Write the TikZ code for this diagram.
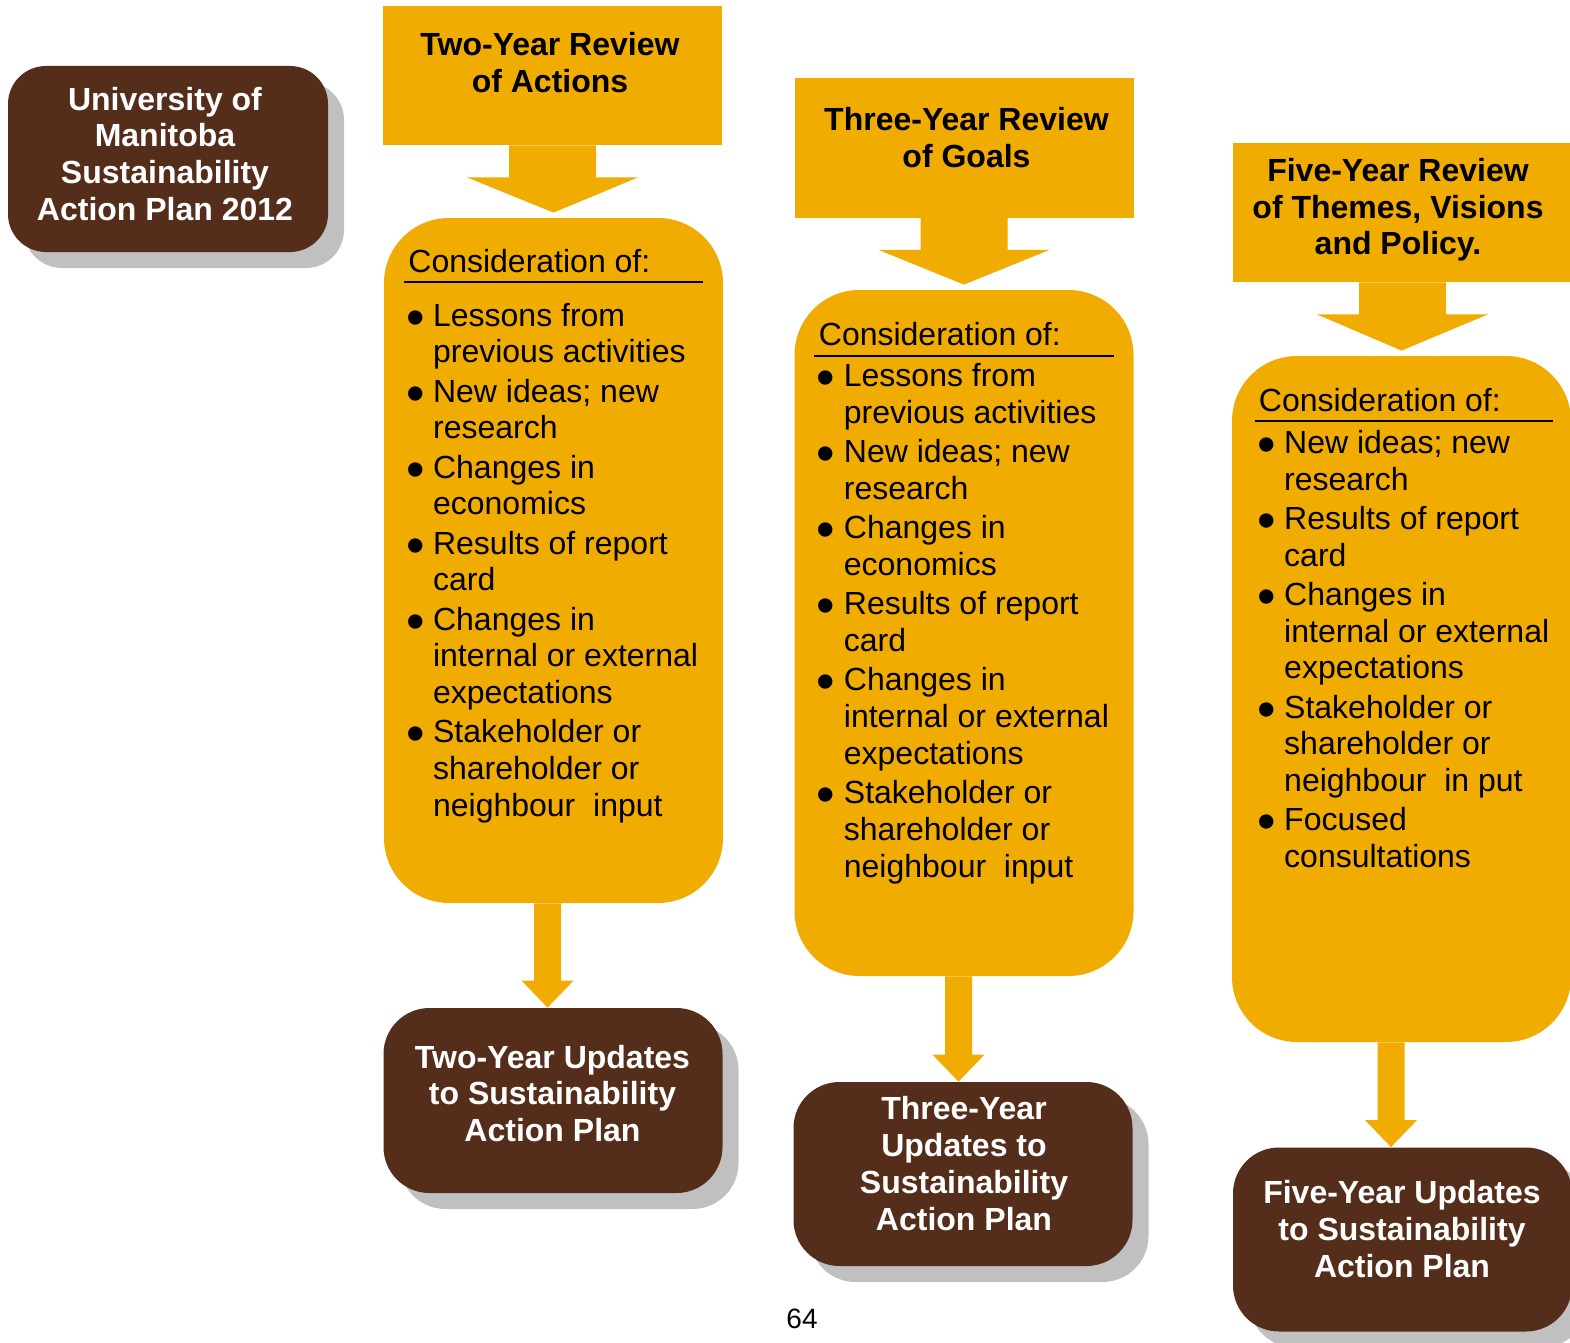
\documentclass[tikz,border=0pt]{standalone}
\usepackage{fontspec}
\usepackage{graphicx}
\setmainfont{Liberation Sans}
\usetikzlibrary{calc,shadows}
\definecolor{gold}{HTML}{F0AC00}
\definecolor{brownbox}{HTML}{552E1B}
\definecolor{shadowgray}{HTML}{C0C0C0}
\newcommand\bul{\makebox[12pt][l]{\hspace*{-1.5pt}\raisebox{-4.5pt}{\scalebox{1.65}{\textbullet}}}}
\newcommand\ind{\hspace*{12pt}}
\newcommand\ig{1.2pt}
\newcommand\topArrow[2]{%
  \fill[blockarrow] ($(#1.south)+(-43.5,0)$) -- ($(#1.south)+(43.5,0)$)
    -- ($(#1.south)+(43.5,32)$) -- ($(#1.south)+(85.5,32)$)
    -- ($(#2.north)+(0,-5)$)
    -- ($(#1.south)+(-85.5,32)$) -- ($(#1.south)+(-43.5,32)$) -- cycle;}
\newcommand\botArrow[4]{%
  \coordinate (#3) at ($(#1.south)+(#4,0)$);
  \fill[blockarrow] ($(#3)+(-13.5,0)$) -- ($(#3)+(13.5,0)$)
    -- ($(#3 |- #2.north)+(13.5,-27)$) -- ($(#3 |- #2.north)+(26,-27)$)
    -- ($(#3 |- #2.north)+(0,0)$)
    -- ($(#3 |- #2.north)+(-26,-27)$) -- ($(#3 |- #2.north)+(-13.5,-27)$) -- cycle;}
\begin{document}
\begin{tikzpicture}[x=0.5pt,y=-0.5pt,
  goldbox/.style={fill=gold, draw=none, inner sep=0pt, minimum width=169.5pt},
  titlebox/.style={goldbox, minimum height=69.5pt},
  consbox/.style={goldbox, rounded corners=32.5pt, minimum height=343pt},
  updbox/.style={fill=brownbox, draw=none, inner sep=0pt, minimum width=169.5pt,
     minimum height=92pt, rounded corners=23pt,
     drop shadow={shadow xshift=8pt, shadow yshift=-8pt, fill=shadowgray, opacity=1}},
  titletext/.style={font=\fontsize{16pt}{18.4pt}\selectfont\bfseries, align=center,
     anchor=base, inner sep=0pt, text=black},
  updtext/.style={titletext, text=white},
  listtext/.style={font=\fontsize{16pt}{18.4pt}\selectfont, align=left,
     anchor=base west, inner sep=0pt, text=black},
  blockarrow/.style={fill=gold, draw=none},
  uline/.style={draw=black, line width=1.1pt},
]
\useasboundingbox (0,0) rectangle (1570,1343);
\clip (0,0) rectangle (1570,1343);

% boxes
\node[updbox, minimum width=160pt, minimum height=93pt, rounded corners=19pt] (uofm) at (168,159) {};
\node[titlebox] (r1) at (552.5,75.5) {};
\node[titlebox] (r2) at (964,148) {};
\node[titlebox] (r3) at (1402.5,212.5) {};
\node[consbox, minimum height=342.5pt] (c1) at (553.5,560.5) {};
\node[consbox] (c2) at (964,633) {};
\node[consbox] (c3) at (1401.5,699) {};
\node[updbox, minimum height=92.5pt] (u1) at (553,1100.5) {};
\node[updbox] (u2) at (963,1174) {};
\node[updbox] (u3) at (1402.5,1239.5) {};

% arrows
\topArrow{r1}{c1}
\topArrow{r2}{c2}
\topArrow{r3}{c3}
\botArrow{c1}{u1}{aone}{-6}
\botArrow{c2}{u2}{atwo}{-5.5}
\botArrow{c3}{u3}{athree}{-10.5}

% titles (anchor = baseline of last line)
\node[titletext] (t1) at (550,92.5) {Two-Year Review\\of Actions};
\node[titletext] (t2) at (966.5,167.3) {Three-Year Review\\of Goals};
\node[titletext] (t3) at (1398,255) {Five-Year Review\\of Themes, Visions\\and Policy.};

% update texts
\node[updtext] (tu0) at (165,220.5) {University of\\Manitoba\\Sustainability\\Action Plan 2012};
\node[updtext] (tu1) at (552.5,1141.7) {Two-Year Updates\\to Sustainability\\Action Plan};
\node[updtext] (tu2) at (964,1230) {Three-Year\\Updates to\\Sustainability\\Action Plan};
\node[updtext] (tu3) at (1402,1277) {Five-Year Updates\\to Sustainability\\Action Plan};

% consideration headers
\node[listtext] (h1) at (408,272) {Consideration of:};
\node[listtext] (h2) at (818.5,345) {Consideration of:};
\node[listtext] (h3) at (1258.5,411) {Consideration of:};
\draw[uline] ($(c1.north west)+(20,64)$) -- ($(c1.north east)+(-20,64)$);
\draw[uline] ($(c2.north west)+(20,66)$) -- ($(c2.north east)+(-20,66)$);
\draw[uline] ($(c3.north west)+(23,65.7)$) -- ($(c3.north east)+(-18,65.7)$);

% lists (anchor = baseline of last line)
\node[listtext] (l1) at (408.7,816.4) {\bul Lessons from\\\ind previous activities\\[\ig]
\bul New ideas; new\\\ind research\\[\ig]
\bul Changes in\\\ind economics\\[\ig]
\bul Results of report\\\ind card\\[\ig]
\bul Changes in\\\ind internal or external\\\ind expectations\\[\ig]
\bul Stakeholder or\\\ind shareholder or\\\ind neighbour\ \ input};
\node[listtext] (l2) at (819.5,877.1) {\bul Lessons from\\\ind previous activities\\[\ig]
\bul New ideas; new\\\ind research\\[\ig]
\bul Changes in\\\ind economics\\[\ig]
\bul Results of report\\\ind card\\[\ig]
\bul Changes in\\\ind internal or external\\\ind expectations\\[\ig]
\bul Stakeholder or\\\ind shareholder or\\\ind neighbour\ \ input};
\node[listtext] (l3) at (1259.8,867.7) {\bul New ideas; new\\\ind research\\[\ig]
\bul Results of report\\\ind card\\[\ig]
\bul Changes in\\\ind internal or external\\\ind expectations\\[\ig]
\bul Stakeholder or\\\ind shareholder or\\\ind neighbour\ \ in put\\[\ig]
\bul Focused\\\ind consultations};

% page number
\node[font=\fontsize{14pt}{16pt}\selectfont, anchor=base, inner sep=0pt] (pg) at (802,1328.3) {64};
\end{tikzpicture}
\end{document}
